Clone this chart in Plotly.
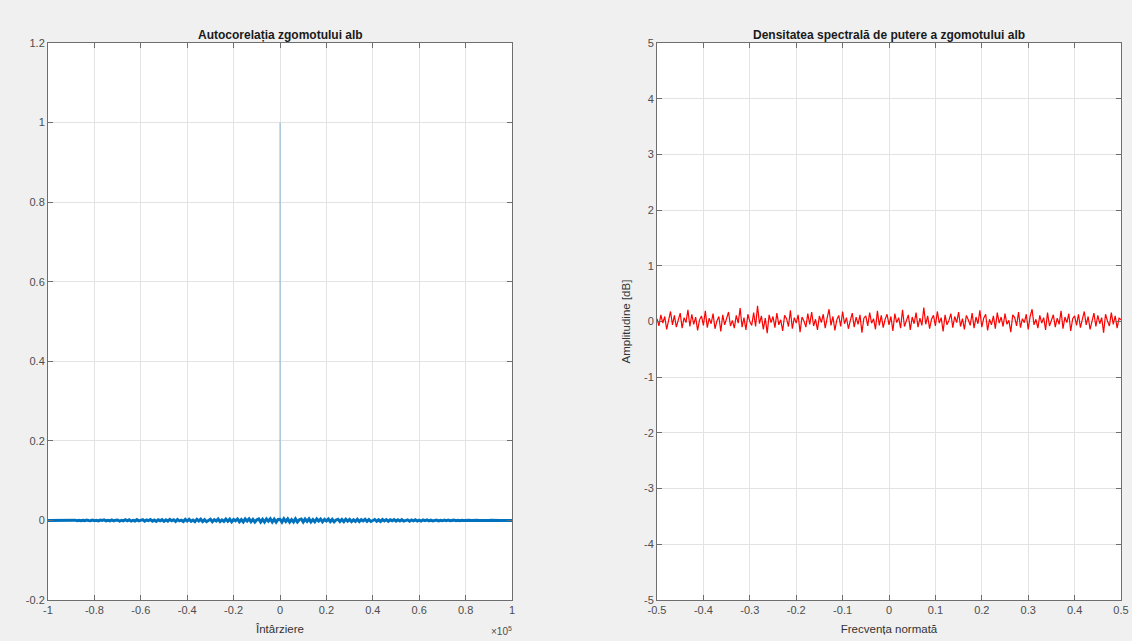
import numpy as np
import plotly.graph_objects as go

# ---------------- data ----------------
# autocorrelation noise floor (units of 1e-3), lags evenly spread over [-1e5, 1e5]
acf_noise_milli = [
    0.0, 0.1, -0.2, 0.3, -0.1, 0.2, -0.4, 0.1, 0.5, -0.3, 0.2, -0.6, 0.4, -0.2, 0.7, -0.5, 0.3, -0.8, 0.6, -0.4,
    0.9, -0.3, -0.8, 1.1, -0.6, 0.4, -1.2, 1.0, -0.2, 1.3, -1.1, 0.5, -0.9, 1.4, -1.3, 0.7, 1.2, -1.6, 0.4, -1.0,
    1.7, -0.8, 1.5, -1.8, 0.3, -1.4, 1.9, -1.2, 0.6, 2.0, -1.9, 1.1, -0.5, 2.2, -1.7, 0.9, -2.3, 1.6, -0.7, 2.1,
    -2.4, 1.3, -1.9, 2.6, -0.8, 1.8, -2.7, 2.3, -1.1, 0.6, -2.8, 2.5, -1.6, 2.9, -2.2, 1.0, -3.0, 2.7, -1.3, 3.1,
    -2.9, 1.8, -3.2, 0.9, 2.8, -3.3, 2.0, -1.4, 3.4, -3.1, 1.2, -2.6, 3.5, -1.9, 3.3, -3.6, 2.4, -0.9, 3.7, -3.4,
    2.1, -3.8, 3.6, -1.5, 3.9, -3.2, 2.6, -4.0, 1.7, 3.8, -3.9, 2.9, -4.1, 3.5, -1.8, 4.2, -4.0, 3.1, -4.3, 2.4,
    3.0,
    -4.2, 4.1, -2.7, 3.9, -4.3, 2.2, -3.6, 4.0, -3.8, 1.9, 3.7, -4.1, 3.3, -2.5, 3.9, -3.7, 2.0, -3.5, 3.6, -1.6,
    3.4, -3.5, 2.8, -1.4, 3.3, -3.2, 2.5, -3.4, 1.2, 3.1, -2.9, 2.2, -3.0, 3.2, -1.7, 2.7, -3.1, 1.5, -2.6, 2.9,
    -2.8, 1.9, -1.1, 2.7, -2.5, 2.3, -2.6, 0.8, 2.4, -2.3, 1.7, -2.4, 2.2, -1.3, 2.1, -2.2, 1.5, -0.7, 2.0, -1.9,
    1.8, -1.2, 1.9, -1.7, 0.6, 1.6, -1.8, 1.4, -1.0, 1.5, -1.5, 0.9, -1.4, 1.3, -0.5, 1.2, -1.3, 1.0, -1.1, 0.7,
    1.0, -1.0, 0.4, -0.9, 0.9, -0.7, 0.8, -0.8, 0.3, 0.7, -0.6, 0.5, -0.6, 0.6, -0.2, 0.5, -0.5, 0.3, -0.4, 0.4,
    -0.2, 0.3, -0.3, 0.1, 0.2, -0.3, 0.2, -0.1, 0.2, -0.2, 0.1, -0.1, 0.1, 0.0, -0.1, 0.1, 0.0, -0.1, 0.0, 0.0,
]
acf_lag_min, acf_lag_max = -100000, 100000
peak_lag = [0, 0]
peak_value = [0.0, 1.0]

# power spectral density [dB] over normalised frequency [-0.5, 0.5]
psd_db = [
    0.05, -0.08, 0.12, -0.03, 0.09, -0.14, 0.02, 0.18, -0.06, 0.11, -0.10, 0.04, 0.15, -0.12, 0.07, -0.02, 0.21, -0.09, 0.13, -0.05,
    0.08, -0.16, 0.03, 0.10, -0.07, 0.19, -0.11, 0.06, -0.04, 0.14, -0.13, 0.01, 0.09, -0.18, 0.12, -0.06, 0.05, 0.17, -0.08, 0.02,
    -0.12, 0.11, -0.03, 0.24, -0.10, 0.07, -0.15, 0.13, 0.00, -0.07, 0.16, -0.09, 0.28, -0.04, 0.10, -0.14, 0.06, -0.21, 0.12, -0.02,
    0.09, -0.11, 0.15, -0.06, 0.03, -0.17, 0.11, 0.05, -0.09, 0.20, -0.13, 0.07, -0.03, 0.12, -0.19, 0.08, 0.01, -0.10, 0.14, -0.05,
    0.17, -0.08, 0.04, -0.15, 0.10, -0.02, 0.13, -0.12, 0.06, 0.22, -0.07, 0.09, -0.16, 0.03, 0.11, -0.09, 0.18, -0.04, 0.07, -0.13,
    0.02, 0.15, -0.10, 0.08, -0.05, 0.12, -0.20, 0.06, 0.10, -0.08, 0.16, -0.03, 0.05, -0.14, 0.19, -0.07, 0.11, -0.11, 0.04, 0.13,
    -0.06, 0.09, -0.17, 0.14, -0.02, 0.07, -0.12, 0.21, -0.09, 0.03, 0.12, -0.15, 0.08, -0.04, 0.16, -0.10, 0.06, -0.07, 0.25, -0.05,
    0.10, -0.13, 0.04, 0.11, -0.08, 0.18, -0.03, 0.07, -0.18, 0.12, -0.06, 0.02, 0.14, -0.11, 0.09, -0.02, 0.17, -0.09, 0.05, -0.14,
    0.11, 0.03, -0.07, 0.15, -0.12, 0.08, -0.04, 0.20, -0.10, 0.06, 0.13, -0.16, 0.04, -0.06, 0.10, -0.13, 0.16, -0.03, 0.08, -0.09,
    0.14, -0.05, 0.02, -0.19, 0.12, 0.07, -0.08, 0.17, -0.11, 0.05, -0.02, 0.13, -0.14, 0.09, 0.22, -0.06, 0.04, -0.12, 0.11, -0.03,
    0.07, -0.15, 0.16, -0.08, 0.03, 0.12, -0.10, 0.06, -0.05, 0.19, -0.13, 0.08, -0.02, 0.14, -0.17, 0.05, 0.10, -0.07, 0.13, -0.11,
    0.04, 0.18, -0.06, 0.09, -0.14, 0.02, 0.15, -0.09, 0.11, -0.04, 0.07, -0.20, 0.13, 0.01, -0.08, 0.16, -0.05, 0.10, -0.12, 0.06, 0.03,
]
freq_min, freq_max = -0.5, 0.5

# tick labels
acf_xtick_vals = [-100000, -80000, -60000, -40000, -20000, 0, 20000, 40000, 60000, 80000, 100000]
acf_xtick_text = ["-1", "-0.8", "-0.6", "-0.4", "-0.2", "0", "0.2", "0.4", "0.6", "0.8", "1"]
acf_ytick_vals = [-0.2, 0, 0.2, 0.4, 0.6, 0.8, 1.0, 1.2]
acf_ytick_text = ["-0.2", "0", "0.2", "0.4", "0.6", "0.8", "1", "1.2"]
psd_xtick_vals = [-0.5, -0.4, -0.3, -0.2, -0.1, 0, 0.1, 0.2, 0.3, 0.4, 0.5]
psd_xtick_text = ["-0.5", "-0.4", "-0.3", "-0.2", "-0.1", "0", "0.1", "0.2", "0.3", "0.4", "0.5"]
psd_ytick_vals = [-5, -4, -3, -2, -1, 0, 1, 2, 3, 4, 5]
psd_ytick_text = ["-5", "-4", "-3", "-2", "-1", "0", "1", "2", "3", "4", "5"]

# ---------------- figure ----------------
W, H = 1132, 641
lags = np.linspace(acf_lag_min, acf_lag_max, len(acf_noise_milli))
acf_noise = np.array(acf_noise_milli) * 1e-3
freqs = np.linspace(freq_min, freq_max, len(psd_db))

FONT = "Liberation Sans, Arial, Helvetica, sans-serif"
TICKC = "#4d4d4d"

fig = go.Figure()
fig.add_trace(go.Scatter(x=lags, y=acf_noise, mode="lines",
                         line=dict(color="#0072BD", width=3),
                         xaxis="x", yaxis="y", showlegend=False, hoverinfo="skip"))
fig.add_trace(go.Scatter(x=peak_lag, y=peak_value, mode="lines",
                         line=dict(color="rgba(0,114,189,0.45)", width=1),
                         xaxis="x", yaxis="y", showlegend=False, hoverinfo="skip"))
fig.add_trace(go.Scatter(x=freqs, y=psd_db, mode="lines",
                         line=dict(color="#FF0000", width=1.2),
                         xaxis="x2", yaxis="y2", showlegend=False, hoverinfo="skip"))


def px_x(p):
    return p / W


def px_y(p):
    return 1 - p / H


ydom = [px_y(600), px_y(43)]
axis_common = dict(
    showgrid=True, gridcolor="#e3e3e3", gridwidth=1,
    showline=True, linecolor="#6e6e6e", linewidth=1, mirror="ticks",
    ticks="inside", ticklen=5, tickcolor="#6e6e6e",
    zeroline=False, tickfont=dict(family=FONT, size=11, color=TICKC),
    fixedrange=True, automargin=False,
)
title_font = dict(family=FONT, size=11.5, color="#333333")

fig.update_layout(
    width=W, height=H,
    paper_bgcolor="#f0f0f0", plot_bgcolor="#ffffff",
    margin=dict(l=0, r=0, t=0, b=0, autoexpand=False),
    font=dict(family=FONT, color=TICKC),
    xaxis=dict(domain=[px_x(48), px_x(512)], range=[acf_lag_min, acf_lag_max],
               tickvals=acf_xtick_vals, ticktext=acf_xtick_text, anchor="y",
               title=dict(text="Întârziere", font=title_font, standoff=9),
               **axis_common),
    yaxis=dict(domain=ydom, range=[-0.2, 1.2], tickvals=acf_ytick_vals, ticktext=acf_ytick_text,
               anchor="x", **axis_common),
    xaxis2=dict(domain=[px_x(657), px_x(1121)], range=[freq_min, freq_max],
                tickvals=psd_xtick_vals, ticktext=psd_xtick_text, anchor="y2",
                title=dict(text="Frecvența normată", font=title_font, standoff=9),
                **axis_common),
    yaxis2=dict(domain=ydom, range=[-5, 5], tickvals=psd_ytick_vals, ticktext=psd_ytick_text,
                anchor="x2",
                title=dict(text="Amplitudine [dB]", font=title_font, standoff=10),
                **axis_common),
    annotations=[
        dict(text="<b>Autocorelația zgomotului alb</b>", x=(px_x(48) + px_x(512)) / 2, y=px_y(35),
             xref="paper", yref="paper", showarrow=False, xanchor="center", yanchor="middle",
             font=dict(family=FONT, size=12, color="#1a1a1a")),
        dict(text="<b>Densitatea spectrală de putere a zgomotului alb</b>", x=(px_x(657) + px_x(1121)) / 2,
             y=px_y(35), xref="paper", yref="paper", showarrow=False, xanchor="center", yanchor="middle",
             font=dict(family=FONT, size=12, color="#1a1a1a")),
        dict(text="×10<sup>5</sup>", x=px_x(514), y=px_y(631), xref="paper", yref="paper",
             showarrow=False, xanchor="right", yanchor="middle",
             font=dict(family=FONT, size=10, color=TICKC)),
    ],
)

fig.write_html(
    "out.html",
    config={"displayModeBar": False},
    post_script="document.body.style.margin='0';document.body.style.background='#f0f0f0';",
)
